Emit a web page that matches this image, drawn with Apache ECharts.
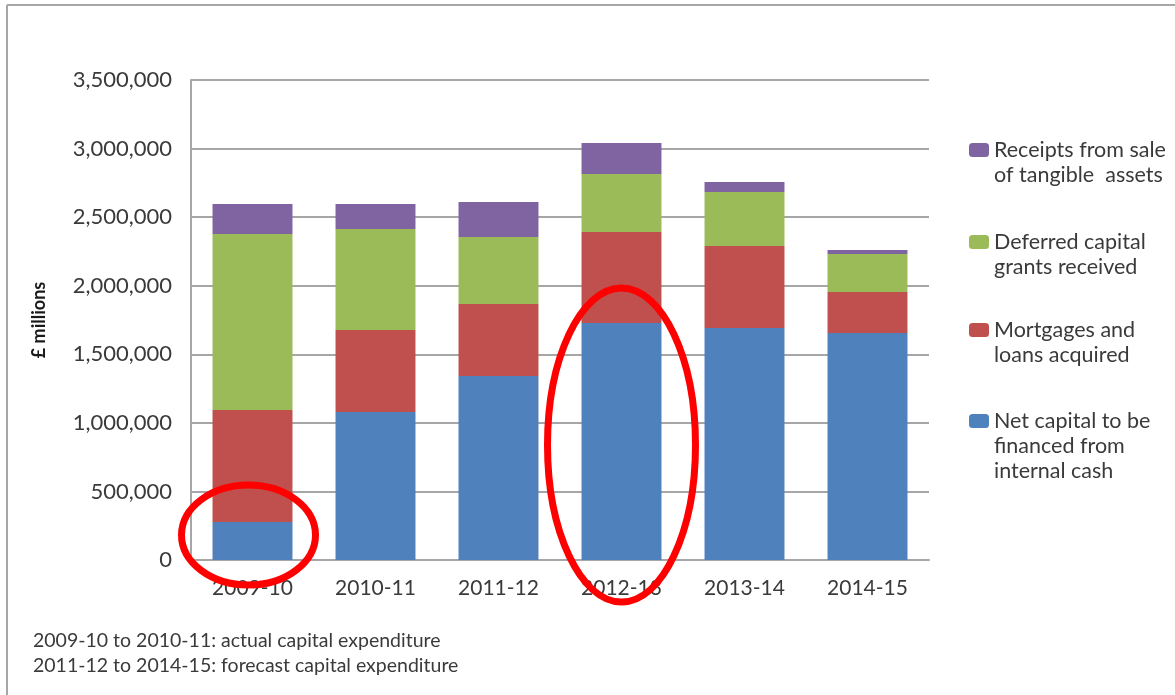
<!DOCTYPE html>
<html>
<head>
<meta charset="utf-8">
<script src="https://cdn.jsdelivr.net/npm/echarts@6/dist/echarts.min.js"></script>
<style>
  html, body { margin: 0; padding: 0; background: #fff; }
  #chart { width: 1175px; height: 695px; }
</style>
</head>
<body>
<div id="chart"></div>
<script>
// Années (axe des catégories)
const years = ['2009-10', '2010-11', '2011-12', '2012-13', '2013-14', '2014-15'];

// Valeurs (£ millions)
const netCapital = [277000, 1079000, 1342000, 1728000, 1692000, 1655000];
const mortgages = [817000, 598000, 525000, 664000, 598000, 299000];
const deferredGrants = [1283000, 737000, 488000, 423000, 393000, 277000];
const receipts = [219000, 182000, 255000, 226000, 73000, 29000];

// Graduations de l'axe Y
const yTickLabels = ['0', '500,000', '1,000,000', '1,500,000', '2,000,000', '2,500,000', '3,000,000', '3,500,000'];

const FONT = 'Lato';
const TEXT = '#3a3a3a';
const GRID = '#a6a6a6';

const seriesDefs = [
    { name: 'Net capital to be financed from internal cash', label: 'Net capital to be\nfinanced from\ninternal cash', data: netCapital, color: '#4f81bd' },
    { name: 'Mortgages and loans acquired', label: 'Mortgages and\nloans acquired', data: mortgages, color: '#c0504d' },
    { name: 'Deferred capital grants received', label: 'Deferred capital\ngrants received', data: deferredGrants, color: '#9bbb59' },
    { name: 'Receipts from sale of tangible assets', label: 'Receipts from sale\nof tangible  assets', data: receipts, color: '#8064a2' }
];

// Position verticale (centre de l'icône) de chaque entrée de légende
const legendIconY = { 3: 150, 2: 242, 1: 330, 0: 421 };
const LINE_H = 25;

function buildLegends() {
    return seriesDefs.map((s, i) => {
        const n = s.label.split('\n').length;
        // lignes vides en tête pour que l'icône soit alignée sur la 1re ligne
        const text = '\n'.repeat(n - 1) + s.label;
        const h = LINE_H * (2 * n - 1);
        return {
            left: 969,
            top: legendIconY[i] - h / 2,
            padding: 0,
            itemWidth: 20,
            itemHeight: 14,
            selectedMode: false,
            data: [s.name],
            formatter: () => text,
            textStyle: {
                fontFamily: FONT,
                fontSize: 21.5,
                color: TEXT,
                lineHeight: LINE_H
            }
        };
    });
}

function settingsCapital() {
    return {
        animation: false,
        textStyle: { fontFamily: FONT },
        grid: { left: 191, right: 246, top: 80, bottom: 135 },
        legend: buildLegends(),
        xAxis: {
            type: 'category',
            data: years,
            axisLine: { lineStyle: { color: GRID, width: 2 } },
            axisTick: { show: false },
            axisLabel: { fontFamily: FONT, fontSize: 21, color: TEXT, margin: 18 }
        },
        yAxis: {
            type: 'value',
            min: 0,
            max: 3500000,
            interval: 500000,
            name: '£ millions',
            nameLocation: 'middle',
            nameGap: 143,
            nameRotate: 90,
            nameTextStyle: { fontFamily: FONT, fontSize: 18, fontWeight: 'bold', color: '#1a1a1a' },
            axisLine: { show: true, lineStyle: { color: GRID, width: 2 } },
            axisTick: { show: false },
            splitLine: { lineStyle: { color: GRID, width: 2 } },
            axisLabel: {
                fontFamily: FONT, fontSize: 22, color: TEXT, margin: 19,
                formatter: v => yTickLabels[Math.round(v / 500000)]
            }
        },
        series: seriesDefs.map(s => ({
            name: s.name,
            type: 'bar',
            stack: 'total',
            barCategoryGap: '35%',
            data: s.data,
            itemStyle: { color: s.color }
        }))
    };
}

const dom = document.getElementById('chart');
const chart = echarts.init(dom);
chart.setOption(settingsCapital());

// Annotations : cadre, notes de bas de page et ellipses rouges
const c1 = chart.convertToPixel({ xAxisIndex: 0, yAxisIndex: 0 }, [years[0], 182000]);
const c2 = chart.convertToPixel({ xAxisIndex: 0, yAxisIndex: 0 }, [years[3], 838000]);

chart.setOption({
    graphic: [
        { type: 'line', shape: { x1: 7, y1: 5, x2: 1175, y2: 5 }, style: { stroke: GRID, lineWidth: 2 } },
        { type: 'line', shape: { x1: 7, y1: 5, x2: 7, y2: 695 }, style: { stroke: GRID, lineWidth: 2 } },
        {
            type: 'text', left: 33, top: 631,
            style: { text: '2009-10 to 2010-11: actual capital expenditure', font: '19.5px Lato', fill: TEXT }
        },
        {
            type: 'text', left: 33, top: 656,
            style: { text: '2011-12 to 2014-15: forecast capital expenditure', font: '19.5px Lato', fill: TEXT }
        },
        {
            type: 'ellipse', z: 100,
            shape: { cx: c1[0] - 4, cy: c1[1], rx: 67, ry: 50 },
            style: { fill: 'none', stroke: '#ff0000', lineWidth: 7 }
        },
        {
            type: 'ellipse', z: 100,
            shape: { cx: c2[0], cy: c2[1], rx: 74, ry: 157 },
            style: { fill: 'none', stroke: '#ff0000', lineWidth: 7 }
        }
    ]
});
</script>
</body>
</html>
